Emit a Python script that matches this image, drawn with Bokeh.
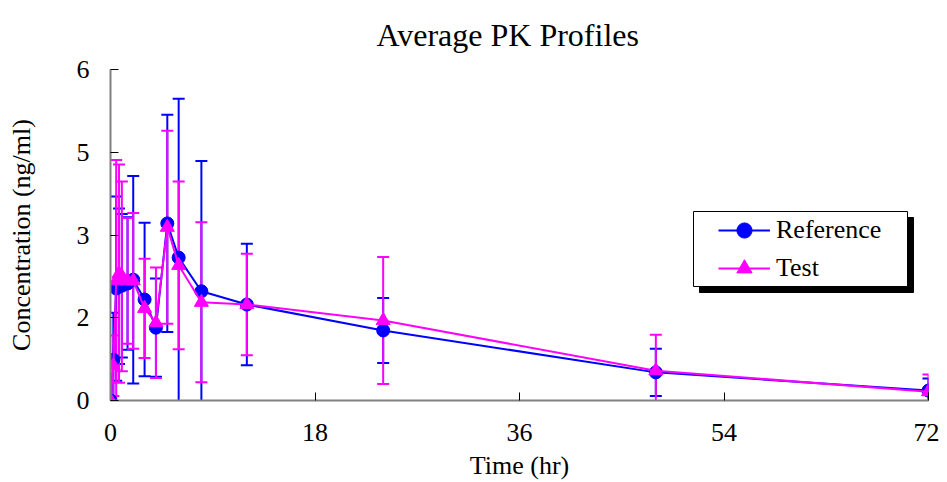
from bokeh.plotting import figure
from bokeh.models import (ColumnDataSource, Range1d, FixedTicker, Legend, LegendItem)
from bokeh.embed import file_html
from bokeh.resources import INLINE

# ---------------- data ----------------
time = [0, 0.25, 0.5, 0.75, 1, 1.5, 2, 3, 4, 5, 6, 8, 12, 24, 48, 72]
ref_mean = [0, 0.74, 2.03, 2.07, 2.08, 2.12, 2.19, 1.83, 1.32, 3.21, 2.59, 1.98, 1.74, 1.27, 0.51, 0.18]
ref_sd = [0, 0.85, 1.67, 1.41, 1.30, 1.20, 1.88, 1.39, 0.89, 1.97, 2.88, 2.36, 1.10, 0.59, 0.43, 0.22]
test_mean = [0, 0.63, 2.17, 2.30, 2.25, 2.17, 2.17, 1.67, 1.41, 3.14, 2.45, 1.78, 1.74, 1.45, 0.54, 0.16]
test_sd = [0, 0.55, 2.19, 1.98, 1.72, 1.14, 1.23, 0.90, 1.00, 1.75, 1.52, 1.45, 0.92, 1.15, 0.65, 0.31]

series_names = ["Reference", "Test"]
x_ticks = [0, 18, 36, 54, 72]
y_ticks = [0, 1.5, 3, 4.5, 6]
y_tick_labels = ["0", "2", "3", "5", "6"]
title_text = "Average PK Profiles"
x_label = "Time (hr)"
y_label = "Concentration (ng/ml)"

BLUE = "#0000FF"
MAGENTA = "#FF00FF"
FONT = "Liberation Serif"

W, H = 939, 482
FL, FR, FT, FB = 110, 11, 69, 82   # frame borders (canvas px)
X0, X1, Y0, Y1 = 0, 72, 0, 6

p = figure(width=W, height=H, output_backend="svg", toolbar_location=None,
           x_range=Range1d(X0, X1), y_range=Range1d(Y0, Y1),
           min_border_left=FL, min_border_right=FR,
           min_border_top=FT, min_border_bottom=FB,
           title=title_text)
p.outline_line_color = None
p.xgrid.visible = False
p.ygrid.visible = False
p.background_fill_color = "white"
p.border_fill_color = "white"

p.title.text_font = FONT
p.title.text_font_size = "32px"
p.title.text_font_style = "normal"
p.title.text_color = "black"
p.title.align = "left"
p.title.offset = 266
p.title.vertical_align = "top"
p.title.standoff = 30

for ax in (p.xaxis[0], p.yaxis[0]):
    ax.axis_line_color = "#808080"
    ax.axis_line_width = 2
    ax.major_tick_line_color = "black"
    ax.major_tick_line_width = 1
    ax.major_tick_in = 8
    ax.major_tick_out = 0
    ax.minor_tick_line_color = None
    ax.major_label_text_font = FONT
    ax.major_label_text_font_size = "26px"
    ax.major_label_text_color = "black"
    ax.axis_label_text_font = FONT
    ax.axis_label_text_font_size = "26px"
    ax.axis_label_text_font_style = "normal"
    ax.axis_label_text_color = "black"

p.xaxis.ticker = FixedTicker(ticks=x_ticks)
p.xaxis.axis_label = x_label
p.xaxis.major_label_standoff = 23
p.xaxis.axis_label_standoff = 7

p.yaxis.ticker = FixedTicker(ticks=y_ticks)
p.yaxis.major_label_overrides = {float(t): lab for t, lab in zip(y_ticks, y_tick_labels)}
p.yaxis.axis_label = y_label
p.yaxis.major_label_standoff = 21
p.yaxis.axis_label_standoff = 38

# pixel layout -> data units helpers
fw = W - FL - FR
fh = H - FT - FB
def px2x(px):
    return X0 + (px - FL) / fw * (X1 - X0)
def py2y(py):
    return Y0 + ((FT + fh) - py) / fh * (Y1 - Y0)


def err_source(mean, sd):
    xs, lo, hi = [], [], []
    for t, m, s in zip(time, mean, sd):
        if s > 0:
            xs.append(t)
            lo.append(m - s)
            hi.append(m + s)
    return ColumnDataSource(dict(x=xs, lower=lo, upper=hi))


ref_err = err_source(ref_mean, ref_sd)
test_err = err_source(test_mean, test_sd)

# error bars (blue first, magenta on top)
for src, col in ((ref_err, BLUE), (test_err, MAGENTA)):
    p.segment(x0="x", y0="lower", x1="x", y1="upper", source=src,
              line_color=col, line_width=2)
    p.scatter(x="x", y="upper", source=src, marker="dash", size=12,
              line_color=col, line_width=2)
    p.scatter(x="x", y="lower", source=src, marker="dash", size=12,
              line_color=col, line_width=2)

ref_src = ColumnDataSource(dict(t=time, v=ref_mean))
test_src = ColumnDataSource(dict(t=time, v=test_mean))

# legend decoration box with shadow
BOX_PX = (693, 907, 211, 286)
SHADOW = 6
p.quad(left=[px2x(BOX_PX[0] + SHADOW)], right=[px2x(BOX_PX[1] + SHADOW)],
       top=[py2y(BOX_PX[2] + SHADOW)], bottom=[py2y(BOX_PX[3] + SHADOW)],
       fill_color="black", line_color="black")
p.quad(left=[px2x(BOX_PX[0])], right=[px2x(BOX_PX[1])],
       top=[py2y(BOX_PX[2])], bottom=[py2y(BOX_PX[3])],
       fill_color="white", line_color="black", line_width=1)

rl = p.line("t", "v", source=ref_src, line_color=BLUE, line_width=2)
rm = p.scatter("t", "v", source=ref_src, marker="circle", size=13,
               fill_color=BLUE, line_color=BLUE)
tl = p.line("t", "v", source=test_src, line_color=MAGENTA, line_width=2)
tm = p.scatter("t", "v", source=test_src, marker="triangle", size=14,
               fill_color=MAGENTA, line_color=MAGENTA)

legend = Legend(items=[LegendItem(label=series_names[0], renderers=[rl, rm]),
                       LegendItem(label=series_names[1], renderers=[tl, tm])],
                location=(608, 113), padding=0, margin=0, spacing=0,
                glyph_width=52, glyph_height=38, label_height=38,
                label_standoff=6,
                border_line_alpha=0, background_fill_alpha=0,
                label_text_font=FONT, label_text_font_size="26px",
                label_text_color="black")
p.add_layout(legend, "center")

open("out.html", "w").write(file_html(p, INLINE))
